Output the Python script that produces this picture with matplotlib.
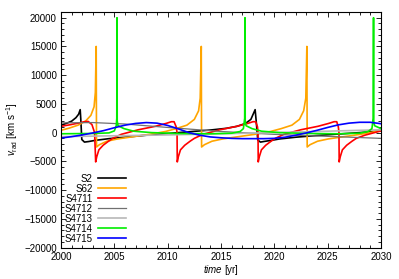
import matplotlib
matplotlib.use("Agg")
import matplotlib.pyplot as plt
from matplotlib.ticker import MultipleLocator

plt.rcParams['font.family'] = ['Liberation Sans', 'DejaVu Sans']
plt.rcParams['mathtext.fontset'] = 'custom'
plt.rcParams['mathtext.rm'] = 'Liberation Sans'
plt.rcParams['mathtext.it'] = 'Liberation Sans:italic'

# ---- data ----
s2_t = [2000.0, 2000.5, 2001.0, 2001.4, 2001.65, 2001.8, 2001.85, 2001.95, 2002.2, 2002.6, 2003.2,
        2004.5, 2006.0, 2008.0, 2010.0, 2012.0, 2014.0, 2015.5, 2016.5, 2017.3, 2017.8, 2018.2,
        2018.3, 2018.45, 2018.7, 2019.0, 2019.7, 2020.5, 2022.0, 2024.0, 2026.0, 2028.0, 2030.0]
s2_v = [1300, 1600, 2000, 2600, 3200, 4000, 2500, -1200, -1650, -1550, -1350,
        -1050, -800, -450, -150, 150, 450, 750, 1100, 1600, 2300, 4000,
        2000, -1300, -1650, -1550, -1350, -1100, -800, -500, -250, 0, 300]

s62_t = [2000.0, 2000.8, 2001.6, 2002.3, 2002.8, 2003.1, 2003.22, 2003.3, 2003.33, 2003.6, 2004.3,
         2005.3, 2006.8, 2008.3, 2009.8, 2010.8, 2011.8, 2012.5, 2012.9, 2013.05, 2013.15, 2013.18,
         2013.45, 2014.15, 2015.15, 2016.65, 2018.15, 2019.65, 2020.65, 2021.65, 2022.35, 2022.75,
         2022.95, 2023.05, 2023.08, 2023.35, 2024.05, 2025.05, 2026.55, 2028.05, 2029.55, 2030.0]
s62_v = [400, 800, 1300, 2000, 3000, 4500, 7000, 15000, -2500, -2100, -1500,
         -1100, -700, -300, 200, 700, 1300, 2300, 3800, 6000, 15000, -2500,
         -2100, -1500, -1100, -700, -300, 200, 700, 1300, 2300, 3800,
         6000, 15000, -2500, -2100, -1500, -1100, -700, -300, 200, 350]

s4711_t = [2000.0, 2000.8, 2001.6, 2002.2, 2002.55, 2002.9, 2003.15, 2003.25,
           2003.35, 2003.55, 2003.95, 2004.45, 2004.85, 2005.65, 2006.25, 2007.25, 2008.85, 2009.85,
           2010.35, 2010.6, 2010.8, 2010.88, 2010.9,
           2011.0, 2011.2, 2011.6, 2012.1, 2012.5, 2013.3, 2013.9, 2014.9, 2016.5, 2017.5,
           2018.0, 2018.25, 2018.42, 2018.47, 2018.49,
           2018.59, 2018.79, 2019.19, 2019.69, 2020.09, 2020.89, 2021.49, 2022.49, 2024.09, 2025.09,
           2025.6, 2025.85, 2026.0, 2026.06, 2026.08,
           2026.18, 2026.38, 2026.78, 2027.28, 2027.68, 2028.48, 2029.08, 2030.0]
s4711_v = [1100, 1350, 1650, 1900, 1950, 1400, 0, -5100,
           -4200, -3000, -2200, -1500, -1000, -300, 0, 500, 1100, 1600,
           1900, 1900, 1000, 0, -5100,
           -4200, -3000, -2200, -1500, -1000, -300, 0, 500, 1100, 1600,
           1900, 1900, 1000, 0, -5100,
           -4200, -3000, -2200, -1500, -1000, -300, 0, 500, 1100, 1600,
           1900, 1900, 1000, 0, -5100,
           -4200, -3000, -2200, -1500, -1000, -450, -150, 300]

s4712_t = [2000, 2003, 2006, 2010, 2015, 2020, 2025, 2030]
s4712_v = [1700, 1750, 1500, 900, 200, -300, -650, -1000]

s4713_t = [2000, 2010, 2020, 2030]
s4713_v = [-700, -400, 0, 500]

s4714_t = [2000.0, 2003.0, 2004.5, 2005.0, 2005.18, 2005.23, 2005.25, 2005.27, 2005.35, 2005.9, 2006.8,
           2008.5, 2011.0, 2014.0, 2016.0, 2016.8, 2017.1, 2017.22, 2017.25, 2017.27, 2017.35, 2017.9,
           2018.8, 2020.5, 2023.0, 2026.0, 2028.0, 2028.8, 2029.15, 2029.27, 2029.3, 2029.32, 2029.4,
           2030.0]
s4714_v = [-200, -150, -50, 300, 1200, 2500, 20000, 2000, 1200, 700, 250,
           0, -150, -200, -100, 200, 700, 2500, 20000, 2000, 1200, 700,
           250, 0, -150, -200, -100, 200, 700, 2500, 20000, 2000, 1200,
           700]

s4715_t = list(range(2000, 2031))
s4715_v = [-950, -700, -400, -50, 350, 850, 1300, 1600, 1750, 1650, 1250, 650, 0, -450, -750,
           -900, -1000, -1050, -1050, -1050, -1000, -800, -450, -50, 400, 900, 1350, 1650, 1800,
           1800, 1550]

series = [
    ("S2", s2_t, s2_v, "#000000", 1.2),
    ("S62", s62_t, s62_v, "#FFA500", 1.2),
    ("S4711", s4711_t, s4711_v, "#FF0000", 1.2),
    ("S4712", s4712_t, s4712_v, "#707070", 0.9),
    ("S4713", s4713_t, s4713_v, "#B8B8B8", 1.2),
    ("S4714", s4714_t, s4714_v, "#00EE00", 1.2),
    ("S4715", s4715_t, s4715_v, "#0000FF", 1.2),
]

fig = plt.figure(figsize=(3.99, 2.79), dpi=100)
ax = fig.add_axes([61/399, 31.5/279, 320/399, 235.5/279])

for name, t, v, c, lw in series:
    ax.plot(t, v, color=c, lw=lw, label=name)

ax.set_xlim(2000, 2030)
ax.set_ylim(-20000, 21000)
ax.set_xticks([2000, 2005, 2010, 2015, 2020, 2025, 2030])
ax.set_yticks(list(range(-20000, 20001, 5000)))
ax.xaxis.set_minor_locator(MultipleLocator(1))
ax.yaxis.set_minor_locator(MultipleLocator(1000))
ax.tick_params(which='both', direction='in', top=True, right=True, labelsize=7, pad=3,
               width=0.6)
ax.tick_params(which='major', length=3.5)
ax.tick_params(which='minor', length=2)
for s in ax.spines.values():
    s.set_linewidth(0.8)

ax.set_xlabel(r"$time$ [yr]", fontsize=7, labelpad=1)
ax.set_ylabel(r"$v_{\rm rad}$ [km s$^{-1}$]", fontsize=7, labelpad=3)

leg = ax.legend(loc='lower left', bbox_to_anchor=(0.0, 0.0), frameon=False, fontsize=7,
                markerfirst=False, handlelength=2.9, handletextpad=0.5, labelspacing=0.0,
                borderaxespad=0.0)

fig.savefig("out.png", dpi=100)
